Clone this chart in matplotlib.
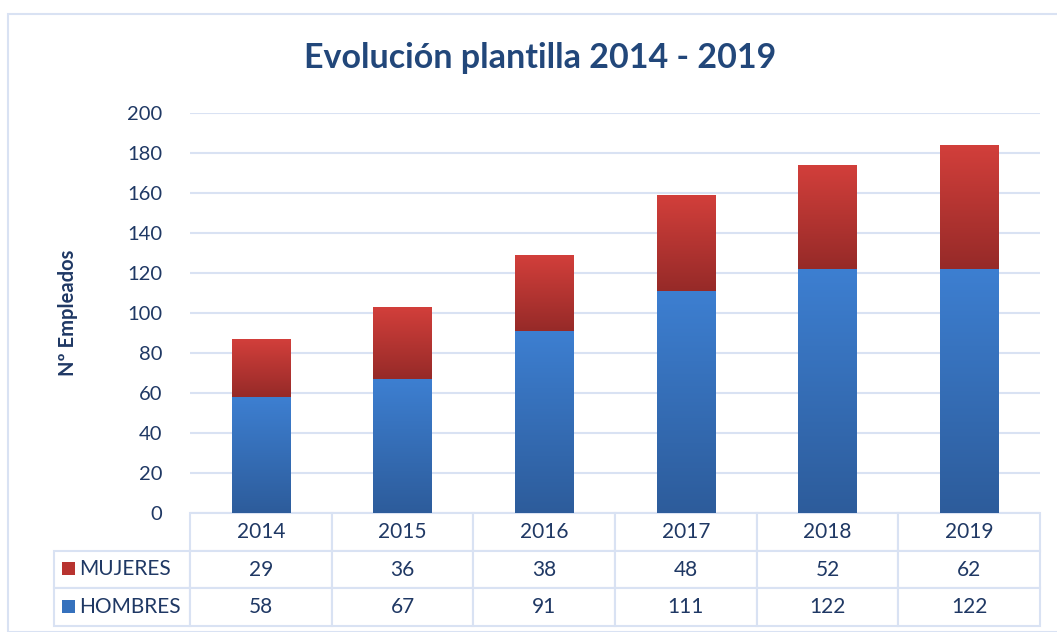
import numpy as np
import matplotlib.pyplot as plt
from matplotlib.colors import LinearSegmentedColormap
from matplotlib.patches import Rectangle

years = ["2014", "2015", "2016", "2017", "2018", "2019"]
hombres = [58, 67, 91, 111, 122, 122]
mujeres = [29, 36, 38, 48, 52, 62]

plt.rcParams["font.family"] = ["Lato", "DejaVu Sans"]
NAVY = "#1F3864"
GRID = "#D9E2F3"

fig = plt.figure(figsize=(10.57, 6.32), dpi=100)
ax = fig.add_axes([190 / 1057, 1 - 513 / 632, 850 / 1057, 400 / 632])

x = np.arange(len(years))
bars_h = ax.bar(x, hombres, width=0.41, color="#3571BD", zorder=3)
bars_m = ax.bar(x, mujeres, bottom=hombres, width=0.41, color="#C13A37", zorder=3)

blue_cm = LinearSegmentedColormap.from_list("b", ["#2D5C9B", "#3D7FD1"])
red_cm = LinearSegmentedColormap.from_list("r", ["#962A28", "#D23F3B"])
grad = np.linspace(0, 1, 256).reshape(-1, 1)
for bars, cm in ((bars_h, blue_cm), (bars_m, red_cm)):
    for b in bars:
        b.set_facecolor("none")
        b.set_edgecolor("none")
        x0, y0, w, h = b.get_x(), b.get_y(), b.get_width(), b.get_height()
        im = ax.imshow(grad, cmap=cm, origin="lower", aspect="auto",
                       extent=(x0, x0 + w, y0, y0 + h), zorder=3)
        im.set_clip_path(b)

ax.set_xlim(-0.5, len(years) - 0.5)
ax.set_ylim(0, 200)
ax.set_yticks(range(0, 201, 20))
ax.yaxis.grid(True, color=GRID, linewidth=1.5, zorder=0)
ax.set_axisbelow(True)
for s in ax.spines.values():
    s.set_visible(False)
ax.tick_params(axis="y", length=0, labelsize=14.5, labelcolor=NAVY, pad=20)
ax.set_xticks([])
ax.set_ylabel("Nº Empleados", fontsize=14.5, fontweight="bold", color=NAVY, labelpad=35)

fig.text(540 / 1057, 1 - 58 / 632, "Evolución plantilla 2014 - 2019", fontsize=24.5,
         fontweight="bold", color="#22477A", ha="center", va="center")

# data table below the plot
lab_w = 136 / 850
rows = [["MUJERES"] + [str(v) for v in mujeres],
        ["HOMBRES"] + [str(v) for v in hombres]]
tab = ax.table(cellText=rows, colLabels=[""] + years,
               colWidths=[lab_w] + [1 / 6] * 6,
               cellLoc="center",
               bbox=[-lab_w, -113 / 400, 1 + lab_w, 113 / 400])
tab.auto_set_font_size(False)
for (r, c), cell in tab.get_celld().items():
    cell.set_edgecolor(GRID)
    cell.set_linewidth(1.5)
    cell.get_text().set_color(NAVY)
    cell.get_text().set_fontsize(15)
    if r == 0 and c == 0:
        cell.visible_edges = ""
    if c == 0 and r > 0:
        cell.get_text().set_text("")

series_lab = [("MUJERES", "#B8332F"), ("HOMBRES", "#3571BD")]
for i, (name, col) in enumerate(series_lab):
    yc = (513 - (569 + 38 * i)) / 400
    ax.add_patch(Rectangle((-0.1505, yc - 0.016), 0.0155, 0.033, transform=ax.transAxes,
                           facecolor=col, clip_on=False, zorder=5))
    ax.text(-0.1305, yc, name, transform=ax.transAxes, fontsize=15, color=NAVY,
            ha="left", va="center")

fig.patches.append(Rectangle((8 / 1057, 0), 1.1, 1 - 14 / 632, transform=fig.transFigure,
                             facecolor="none", edgecolor=GRID, linewidth=1.5))

fig.savefig("out.png", dpi=100, facecolor="white")
